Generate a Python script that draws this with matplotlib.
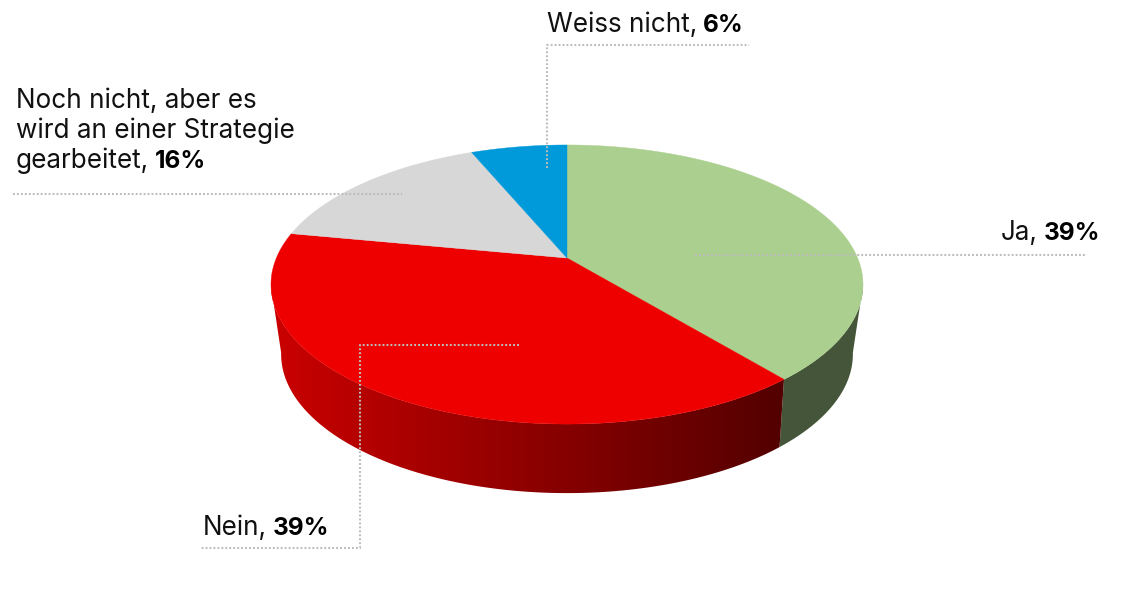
#!/usr/bin/env python3

import numpy as np
import matplotlib
matplotlib.use("Agg")
import matplotlib.pyplot as plt
from matplotlib.patches import Polygon

# clockwise from 12 o'clock
categories = ["Ja", "Nein", "Noch nicht", "Weiss nicht"]
slice_values = [39, 39, 15.7, 6.3]
slice_colors = ["#abcf8e", "#ee0000", "#d7d7d7", "#0099da"]

font = "Inter"
fontsize = 18.8


# unit circle angle (clockwise from top) -> pixel position, with perspective
def project(theta, cy, a, b, k, cx=567):
    u = np.sin(theta)
    v = np.cos(theta)
    w = 1 + k * v
    return cx + a * u / w, cy - b * v / w


def top(theta):
    return project(theta, 258, 290.6, 134.5, 0.19)


def bottom(theta):
    return project(theta, 325, 279.5, 132.8, 0.21)


def side_outline(t0, t1):
    ts = np.linspace(t0, t1, 300)
    tx, ty = top(ts)
    bx, by = bottom(ts[::-1])
    return np.c_[np.r_[tx, bx], np.r_[ty, by]]


def label(ax, x, y, plain, bold):
    t = ax.text(x, y, plain, family=font, fontsize=fontsize, color="#111111", va="baseline", zorder=5)
    ext = t.get_window_extent(ax.figure.canvas.get_renderer())
    ax.text(ext.x1 + 6, y, bold, family=font, fontsize=17.6, fontweight="bold", color="black",
            va="baseline", zorder=5)


def leader(ax, xs, ys):
    ax.plot(xs, ys, color="#bcbcbc", linewidth=1.5, linestyle=(0, (0.9, 1.0)), zorder=4)


f = plt.figure(figsize=(11.25, 6), dpi=100)
ax = f.add_axes([0, 0, 1, 1])
ax.axis("off")

edges = 2 * np.pi * np.cumsum([0] + slice_values) / sum(slice_values)
right_tangent = np.arccos(-0.2)
left_tangent = 2 * np.pi - right_tangent

# sides: only the two front slices show
ax.add_patch(Polygon(side_outline(right_tangent, edges[1]), closed=True, facecolor="#445539",
                     edgecolor="none", zorder=1))

red_side = Polygon(side_outline(edges[1], left_tangent), closed=True, facecolor="none", edgecolor="none")
ax.add_patch(red_side)
ramp = np.linspace(204, 80, 256)[None, :, None] * np.array([1, 0, 0]) / 255
img = ax.imshow(ramp, extent=(265, 795, 600, 0), aspect="auto", zorder=1)
img.set_clip_path(red_side)

ax.set_xlim(0, 1125)
ax.set_ylim(600, 0)

# top face
for i in range(len(slice_values)):
    ts = np.linspace(edges[i], edges[i + 1], 200)
    xs, ys = top(ts)
    ax.fill(np.r_[567, xs], np.r_[258, ys], color=slice_colors[i], linewidth=0.3, zorder=2)

leader(ax, [695, 1087], [254.5, 254.5])
leader(ax, [519, 360, 360, 200], [345, 345, 548, 548])
leader(ax, [13, 402], [194, 194])
leader(ax, [547, 547, 749], [168, 45, 45])

f.canvas.draw()
label(ax, 547, 32, "Weiss nicht,", "6%")
ax.text(16, 108, "Noch nicht, aber es", family=font, fontsize=fontsize, color="#111111", zorder=5)
ax.text(16, 138, "wird an einer Strategie", family=font, fontsize=fontsize, color="#111111", zorder=5)
label(ax, 16, 168, "gearbeitet,", "16%")
label(ax, 1001, 240, "Ja,", "39%")
label(ax, 203, 535, "Nein,", "39%")

plt.savefig("out.png", dpi=100)
